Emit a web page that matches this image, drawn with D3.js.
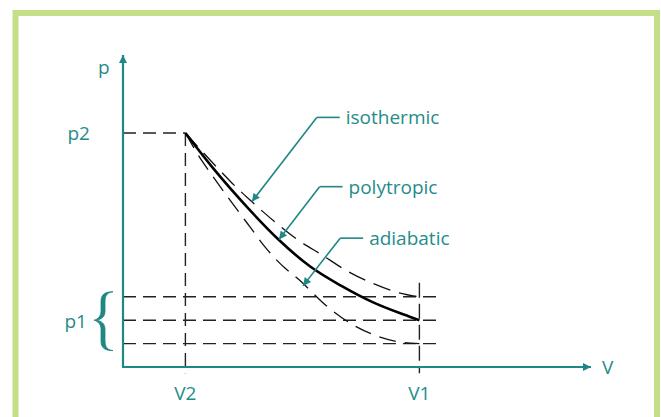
<!DOCTYPE html>
<html><head><meta charset="utf-8">
<script src="https://cdn.jsdelivr.net/npm/d3@7"></script>
<style>
html,body{margin:0;padding:0;background:#fff;}
svg{display:block;}
text{font-family:"Open Sans",sans-serif;}
</style></head>
<body>
<script>
// ---- data (arbitrary units) ----
const volumeTicks = [{label:"V2", v:2}, {label:"V1", v:9.5}];
const pressureP2 = 7.5;
const pressureP1 = [2.25, 1.5, 0.75]; // isothermic, polytropic, adiabatic end pressures
const isothermic = [[2,7.5],[2.85,6.57],[3.49,5.9],[4.07,5.35],[4.87,4.65],[5.61,4.07],[6.38,3.59],[7.18,3.08],[7.98,2.69],[8.88,2.37],[9.5,2.25]];
const polytropic = [[2,7.5],[2.88,6.38],[4,5.1],[5,4.07],[6,3.22],[7,2.6],[8,2.08],[9,1.68],[9.5,1.5]];
const adiabatic = [[2,7.5],[2.37,6.86],[2.85,6.15],[3.43,5.35],[4.07,4.49],[4.55,3.85],[5.19,3.17],[5.58,2.85],[6.57,1.92],[7.37,1.35],[8.24,0.96],[8.88,0.8],[9.5,0.75]];
const curveLabels = ["isothermic","polytropic","adiabatic"];
// label elbow (V,p) and arrow target (V,p)
const labelElbow = [[6.21,8.0],[6.3,5.78],[6.96,4.13]];
const arrowTip = [[4.13,5.3],[5.0,4.09],[5.77,2.6]];

const W=661,H=417;
const svg=d3.select("body").append("svg").attr("width",W).attr("height",H);
const teal="#1f8784", tealText="#258c89";

// frame
svg.append("rect").attr("x",15.5).attr("y",13).attr("width",641.5).attr("height",H+20)
  .attr("fill","none").attr("stroke","#c4df87").attr("stroke-width",6);

const x=d3.scaleLinear().domain([0,15]).range([123,591]);
const y=d3.scaleLinear().domain([0,10]).range([367,55]);

const defs=svg.append("defs");
function marker(id,color,w,h){
  defs.append("marker").attr("id",id).attr("viewBox","0 0 10 10").attr("refX",10).attr("refY",5)
   .attr("markerUnits","userSpaceOnUse").attr("markerWidth",w).attr("markerHeight",h).attr("orient","auto")
   .append("path").attr("d","M0,0L10,5L0,10Z").attr("fill",color);
}
marker("axArrow",teal,18,8);
marker("lblArrow",teal,13,8);

const dash="13,7";
const g=svg.append("g");
const V2=volumeTicks[0].v, V1=volumeTicks[1].v;
// horizontal p1 lines
pressureP1.forEach(p=>{
  g.append("line").attr("x1",x(0)).attr("x2",x(10.2)).attr("y1",y(p)).attr("y2",y(p))
   .attr("stroke","#222").attr("stroke-width",1.4).attr("stroke-dasharray",dash);
});
// p2 line
g.append("line").attr("x1",x(0)).attr("x2",x(V2)).attr("y1",y(pressureP2)).attr("y2",y(pressureP2))
 .attr("stroke","#222").attr("stroke-width",1.4).attr("stroke-dasharray",dash);
// verticals
g.append("line").attr("x1",x(V2)).attr("x2",x(V2)).attr("y1",y(pressureP2)).attr("y2",y(-0.2))
 .attr("stroke","#222").attr("stroke-width",1.4).attr("stroke-dasharray",dash);
g.append("line").attr("x1",x(V1)).attr("x2",x(V1)).attr("y1",y(2.7)).attr("y2",y(-0.2))
 .attr("stroke","#222").attr("stroke-width",1.4).attr("stroke-dasharray","15,6");

// curves
const line=d3.line().x(d=>x(d[0])).y(d=>y(d[1])).curve(d3.curveMonotoneX);
g.append("path").attr("d",line(isothermic)).attr("fill","none").attr("stroke","#111").attr("stroke-width",1.3).attr("stroke-dasharray","18,9");
g.append("path").attr("d",line(adiabatic)).attr("fill","none").attr("stroke","#111").attr("stroke-width",1.3).attr("stroke-dasharray","17,9");
g.append("path").attr("d",line(polytropic)).attr("fill","none").attr("stroke","#000").attr("stroke-width",2.6);

// axes
svg.append("line").attr("x1",x(0)).attr("x2",x(0)).attr("y1",y(0)+1).attr("y2",y(10))
 .attr("stroke",teal).attr("stroke-width",2.2).attr("marker-end","url(#axArrow)");
svg.append("line").attr("x1",x(0)-1).attr("x2",x(15)).attr("y1",y(0)).attr("y2",y(0))
 .attr("stroke",teal).attr("stroke-width",2.2).attr("marker-end","url(#axArrow)");

const fs=19;
// axis labels
svg.append("text").attr("x",x(0)-25).attr("y",y(9.4)).attr("font-size",fs).attr("fill",tealText).text("p");
svg.append("text").attr("x",x(15)+11).attr("y",y(0)+7).attr("font-size",fs).attr("fill",tealText).text("V");
volumeTicks.forEach(t=>{
  svg.append("text").attr("x",x(t.v)).attr("y",400).attr("text-anchor","middle").attr("font-size",fs)
   .attr("fill",tealText).text(t.label);
});
svg.append("text").attr("x",x(0)-33).attr("y",y(pressureP2)+7).attr("text-anchor","end").attr("font-size",fs).attr("fill",tealText).text("p2");
svg.append("text").attr("x",x(0)-36).attr("y",y(pressureP1[1])+8).attr("text-anchor","end").attr("font-size",fs).attr("fill",tealText).text("p1");

// brace (filled, variable thickness)
const bt=y(pressureP1[0])-5, bb=y(pressureP1[2])+7, bm=y(pressureP1[1]);
const ex=x(0)-10, ax=x(0)-20, tx=x(0)-29;
const braceOuter = `M${ex},${bt} C${ax-2},${bt} ${ax-2},${bt+6} ${ax-2},${bt+12} L${ax-2},${bm-9} C${ax-2},${bm-4} ${ax-5},${bm-1} ${tx},${bm}`+
  ` C${ax-5},${bm+1} ${ax-2},${bm+4} ${ax-2},${bm+9} L${ax-2},${bb-12} C${ax-2},${bb-6} ${ax-2},${bb} ${ex},${bb}`+
  ` C${ax+2},${bb-1} ${ax+2},${bb-6} ${ax+2},${bb-12} L${ax+2},${bm+9} C${ax+2},${bm+3} ${ax-2},${bm+1} ${tx+3},${bm}`+
  ` C${ax-2},${bm-1} ${ax+2},${bm-3} ${ax+2},${bm-9} L${ax+2},${bt+12} C${ax+2},${bt+6} ${ax+2},${bt+1} ${ex},${bt} Z`;
svg.append("path").attr("d",braceOuter).attr("fill",teal).attr("stroke",teal).attr("stroke-width",0.8);

// callouts
curveLabels.forEach((name,i)=>{
  const [ev,ep]=labelElbow[i], [tv,tp]=arrowTip[i];
  const lx=x(ev), ly=y(ep);
  svg.append("line").attr("x1",lx).attr("x2",lx+23).attr("y1",ly).attr("y2",ly).attr("stroke",teal).attr("stroke-width",1.6);
  svg.append("line").attr("x1",lx).attr("y1",ly).attr("x2",x(tv)).attr("y2",y(tp)).attr("stroke",teal).attr("stroke-width",1.6)
    .attr("marker-end","url(#lblArrow)");
  svg.append("text").attr("x",lx+29).attr("y",ly+7).attr("font-size",fs).attr("fill",tealText).text(name);
});
</script>
</body></html>
